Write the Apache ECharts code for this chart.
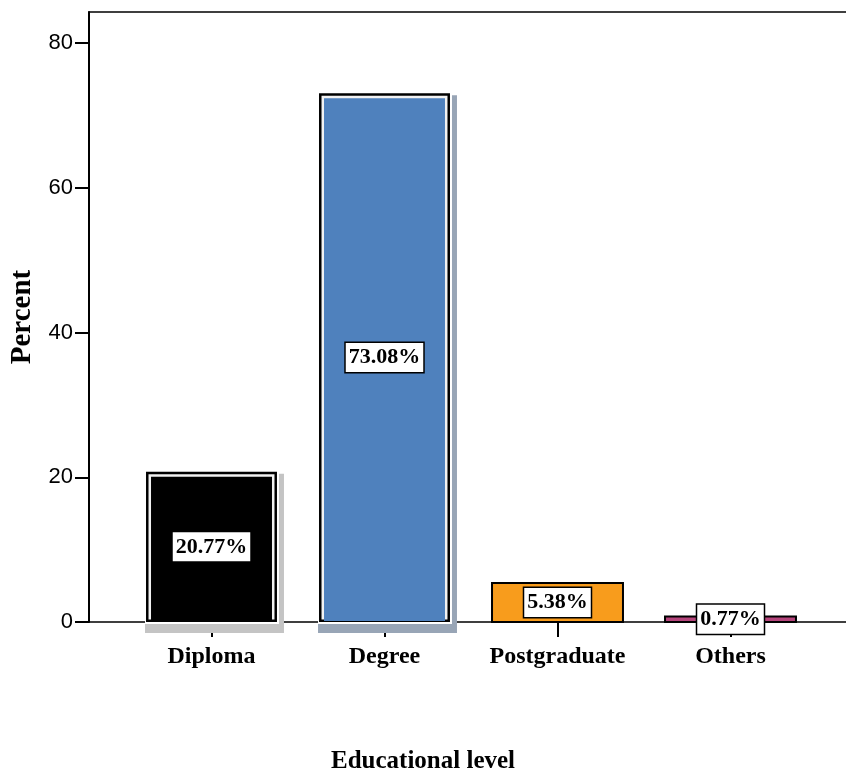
<!DOCTYPE html>
<html>
<head>
<meta charset="utf-8">
<style>
  html, body { margin: 0; padding: 0; background: #fff; }
  #chart { width: 846px; height: 773px; }
</style>
<script src="https://cdn.jsdelivr.net/npm/echarts@6/dist/echarts.min.js"></script>
</head>
<body>
<div id="chart"></div>
<script>
// Educational level distribution (percent of respondents)
var categories = ['Diploma', 'Degree', 'Postgraduate', 'Others'];
var percents = [20.77, 73.08, 5.38, 0.77];
var yTicks = [0, 20, 40, 60, 80];

// Per-bar appearance
var fillColors = ['#000000', '#4f81bd', '#f89c1c', '#b5447b'];
var framed = [true, true, false, false];
var shadowColors = ['#c4c4c4', '#98a5b6', null, null];

var SERIF = '"Liberation Serif", "Times New Roman", Times, serif';
var SANS = '"Liberation Sans", Arial, Helvetica, sans-serif';
var BAR_RATIO = 0.757;

var chart = echarts.init(document.getElementById('chart'), null, { renderer: 'canvas' });

function renderBar(params, api) {
  var i = params.dataIndex;
  var v = api.value(1);
  var top = api.coord([api.value(0), v]);
  var base = api.coord([api.value(0), 0]);
  var w = api.size([1, 0])[0] * BAR_RATIO;
  var x = top[0] - w / 2;
  var y = top[1];
  var h = base[1] - top[1];
  var children = [];

  if (framed[i]) {
    // drop shadow, white halo, black frame, light inner rule, fill
    children.push({
      type: 'rect',
      shape: { x: x - 1, y: y + 2, width: w + 8, height: h + 9 },
      style: { fill: shadowColors[i] }
    });
    children.push({
      type: 'rect',
      shape: { x: x - 1, y: y - 1, width: w + 3, height: h + 3 },
      style: { fill: '#ffffff' }
    });
    children.push({
      type: 'rect',
      shape: { x: x, y: y, width: w, height: h },
      style: { fill: '#000000' }
    });
    children.push({
      type: 'rect',
      shape: { x: x + 2.5, y: y + 2.5, width: w - 5, height: h - 5 },
      style: { fill: '#f2f2f2' }
    });
    children.push({
      type: 'rect',
      shape: { x: x + 5, y: y + 5, width: w - 10, height: h - 6 },
      style: { fill: fillColors[i] }
    });
  } else {
    children.push({
      type: 'rect',
      shape: { x: x, y: y, width: w, height: h },
      style: { fill: fillColors[i], stroke: '#000000', lineWidth: 2 }
    });
  }

  // boxed value label at the middle of the bar
  children.push({
    type: 'text',
    z2: 10,
    style: {
      x: top[0],
      y: y + h / 2,
      text: v.toFixed(2) + '%',
      font: 'bold 22px ' + SERIF,
      fill: '#000000',
      align: 'center',
      verticalAlign: 'middle',
      backgroundColor: '#ffffff',
      borderColor: '#000000',
      borderWidth: 1.5,
      padding: [4, 3, 3, 3]
    }
  });

  return { type: 'group', children: children };
}

var frameLine = { show: true, onZero: false, lineStyle: { color: '#000', width: 1.6 } };

var option = {
  animation: false,
  backgroundColor: '#ffffff',
  title: {
    text: 'Educational level',
    left: 'center',
    top: 744,
    textStyle: { fontFamily: SERIF, fontWeight: 'bold', fontSize: 25, color: '#000' }
  },
  grid: [
    { left: 87, right: 0, top: 12, bottom: 151 },
    { left: 125, width: 692, top: 12, bottom: 151 }
  ],
  xAxis: [
    {
      type: 'value', gridIndex: 0, min: 0, max: 1, position: 'bottom',
      axisLine: frameLine, axisTick: { show: false }, axisLabel: { show: false }, splitLine: { show: false }
    },
    {
      type: 'value', gridIndex: 0, min: 0, max: 1, position: 'top',
      axisLine: frameLine, axisTick: { show: false }, axisLabel: { show: false }, splitLine: { show: false }
    },
    {
      type: 'category',
      gridIndex: 1,
      data: categories,
      axisLine: { show: false },
      axisTick: { show: true, alignWithLabel: true, length: 15, lineStyle: { color: '#000', width: 2 } },
      axisLabel: {
        interval: 0, color: '#000', fontFamily: SERIF, fontWeight: 'bold', fontSize: 24, margin: 23
      }
    }
  ],
  yAxis: [
    {
      type: 'value',
      gridIndex: 0,
      min: 0,
      max: 84.3,
      interval: 20,
      name: 'Percent',
      nameLocation: 'middle',
      nameRotate: 90,
      nameGap: 52,
      nameTextStyle: { color: '#000', fontFamily: SERIF, fontWeight: 'bold', fontSize: 29 },
      splitLine: { show: false },
      axisLine: { show: true, lineStyle: { color: '#000', width: 2 } },
      axisTick: { show: true, length: 14, customValues: yTicks, lineStyle: { color: '#000', width: 2 } },
      axisLabel: {
        customValues: yTicks, color: '#000', fontFamily: SANS, fontSize: 22, margin: 16
      }
    },
    { type: 'value', gridIndex: 1, min: 0, max: 84.3, show: false }
  ],
  series: [
    {
      type: 'custom',
      xAxisIndex: 2,
      yAxisIndex: 1,
      renderItem: renderBar,
      encode: { x: 0, y: 1 },
      data: categories.map(function (c, i) { return [i, percents[i]]; })
    }
  ]
};

chart.setOption(option);
</script>
</body>
</html>
